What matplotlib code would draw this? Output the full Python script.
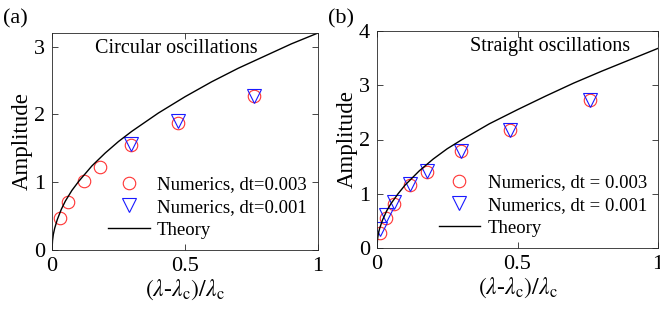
import matplotlib
matplotlib.use('Agg')
import matplotlib.pyplot as plt

plt.rcParams['font.family'] = ['Liberation Serif', 'DejaVu Serif']
plt.rcParams['mathtext.fontset'] = 'stix'

# Panel (a): circular oscillations
a_x3 = [0.029, 0.06, 0.121, 0.179, 0.296, 0.472, 0.759]
a_y3 = [0.47, 0.71, 1.02, 1.23, 1.55, 1.88, 2.27]
a_x1 = [0.296, 0.472, 0.759]
a_y1 = [1.57, 1.90, 2.27]
a_theory_x = [0, 0.002, 0.005, 0.01, 0.02, 0.035, 0.05, 0.075, 0.1, 0.15, 0.2, 0.25,
              0.3, 0.4, 0.5, 0.6, 0.7, 0.8, 0.9, 1.0]
a_theory_y = [0, 0.14, 0.23, 0.32, 0.45, 0.60, 0.72, 0.88, 1.01, 1.24, 1.43, 1.60,
              1.75, 2.02, 2.26, 2.48, 2.68, 2.86, 3.04, 3.20]

# Panel (b): straight oscillations
b_x3 = [0.012, 0.033, 0.062, 0.118, 0.178, 0.298, 0.473, 0.757]
b_y3 = [0.28, 0.56, 0.82, 1.17, 1.40, 1.78, 2.17, 2.73]
b_x1 = [0.012, 0.033, 0.062, 0.118, 0.178, 0.298, 0.473, 0.757]
b_y1 = [0.35, 0.60, 0.85, 1.18, 1.42, 1.78, 2.17, 2.72]
b_theory_x = [0, 0.002, 0.005, 0.01, 0.02, 0.035, 0.05, 0.075, 0.1, 0.15, 0.2, 0.25,
              0.3, 0.4, 0.5, 0.6, 0.7, 0.8, 0.9, 1.0]
b_theory_y = [0, 0.17, 0.27, 0.37, 0.52, 0.69, 0.82, 1.00, 1.16, 1.42, 1.64, 1.83,
              1.99, 2.29, 2.55, 2.80, 3.04, 3.26, 3.47, 3.68]

panels = [
    ('(a)', 'Circular oscillations', 0.466, a_x3, a_y3, a_x1, a_y1, a_theory_x, a_theory_y,
     3.2, [0, 1, 2, 3], ['Numerics, dt=0.003', 'Numerics, dt=0.001']),
    ('(b)', 'Straight oscillations', 0.616, b_x3, b_y3, b_x1, b_y1, b_theory_x, b_theory_y,
     4, [0, 1, 2, 3, 4], ['Numerics, dt = 0.003', 'Numerics, dt = 0.001']),
]

fig = plt.figure(figsize=(6.6, 3.12), dpi=100)
boxes = [[52 / 660, 1 - 250 / 312, 266 / 660, 217 / 312],
         [377 / 660, 1 - 248 / 312, 281 / 660, 217 / 312]]

for box, (tag, title, tx_pos, x3, y3, x1, y1, tx, ty, ymax, yt, labs) in zip(boxes, panels):
    ax = fig.add_axes(box)
    ax.plot(x3, y3, 'o', mfc='none', mec='#ff3333', ms=9, mew=0.8, label=labs[0])
    ax.plot(x1, y1, 'v', mfc='none', mec='#1a1aff', ms=9.5, mew=0.8, label=labs[1])
    ax.plot(tx, ty, '-', color='k', lw=1.0, label='Theory')
    ax.set_xlim(0, 1)
    ax.set_ylim(0, ymax)
    ax.set_xticks([0, 0.5, 1])
    ax.set_xticklabels(['0', '0.5', '1'])
    ax.set_yticks(yt)
    ax.tick_params(direction='in', top=True, right=True, labelsize=16,
                   length=4, width=0.6, color='#262626', pad=5)
    for s in ax.spines.values():
        s.set_color('#262626')
        s.set_linewidth(0.6)
    ax.set_ylabel('Amplitude', fontsize=16.5, labelpad=1)
    ax.set_xlabel(r'$(\lambda$-$\lambda_{\mathrm{c}})/\lambda_{\mathrm{c}}$', fontsize=17, labelpad=1)
    ax.text(tx_pos, 0.93, title, transform=ax.transAxes, ha='center', va='center', fontsize=14.5)
    ax.legend(loc='lower right', frameon=False, fontsize=13.5, handlelength=2.2,
              handletextpad=0.4, labelspacing=0.3, borderaxespad=0.2)
    fig.text(box[0] - 49 / 660, 0.94, tag, fontsize=16, ha='left', va='center')

fig.savefig('out.png', dpi=100)
